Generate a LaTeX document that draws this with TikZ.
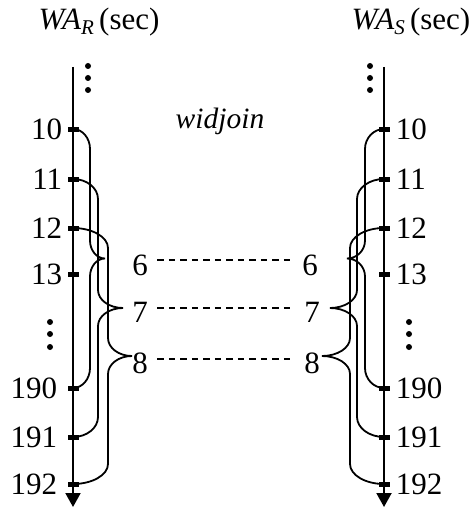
\documentclass[tikz,border=0pt]{standalone}
\usepackage{fontspec}
\setmainfont{Liberation Serif}
\usetikzlibrary{arrows.meta,calc,positioning}

\begin{document}
\begin{tikzpicture}[x=1pt,y=-1pt,
        font=\fontsize{31}{36}\selectfont,
        axis/.style={line width=2pt,-{Triangle[length=14pt,width=15pt]}},
        tick/.style={fill=black,inner sep=0pt,minimum width=11pt,minimum height=5pt},
        wbrace/.style 2 args={line width=1.8pt,
            to path={let \p1=(\tikztostart), \p2=(\tikztotarget) in
                (\p1) .. controls ({\x1+0.55*(#1)},\y1) and ({\x1+(#1)},{\y1-9}) .. ({\x1+(#1)},{\y1-20})
                  -- ({\x1+(#1)},{(\y1+\y2)/2+18})
                  .. controls ({\x1+(#1)},{(\y1+\y2)/2+8}) and ({\x1+(#1)+0.45*((#2)-(#1))},{(\y1+\y2)/2}) .. ({\x1+(#2)},{(\y1+\y2)/2})
                (\p2) .. controls ({\x1+0.55*(#1)},\y2) and ({\x1+(#1)},{\y2+9}) .. ({\x1+(#1)},{\y2+20})
                  -- ({\x1+(#1)},{(\y1+\y2)/2-18})
                  .. controls ({\x1+(#1)},{(\y1+\y2)/2-8}) and ({\x1+(#1)+0.45*((#2)-(#1))},{(\y1+\y2)/2}) .. ({\x1+(#2)},{(\y1+\y2)/2})}},
        wdash/.style={line width=1.3pt,dash pattern=on 6.5pt off 5pt,shorten <=6pt,shorten >=6pt},
        vdot/.style={circle,fill=black,inner sep=0pt,minimum size=6pt},
        num/.style={inner sep=0pt}]
            \useasboundingbox (0,0) rectangle (473,508);
            % titles
            \node[anchor=base] (tR) at (99,30) {\textit{WA}\raisebox{-5pt}{\fontsize{21}{21}\selectfont\textit{R}}\,(sec)};
            \node[anchor=base] (tS) at (411,30) {\textit{WA}\raisebox{-5pt}{\fontsize{21}{21}\selectfont\textit{S}}\,(sec)};
            \node[font=\fontsize{29.5}{34}\selectfont] (wj) at (220,121) {\textit{widjoin}};
            % time axes
            \coordinate (ltop) at (73,67);
            \coordinate (lbot) at (73,507);
            \coordinate (rtop) at (384,67);
            \coordinate (rbot) at (384,507);
            \draw[axis] (ltop) -- (lbot);
            \draw[axis] (rtop) -- (rbot);
            \foreach \v/\y in {10/129,11/179,12/228,13/274,190/388,191/437,192/484}{
                \node[tick] (l\v) at (73,\y) {};
                \node[tick] (r\v) at (384,\y) {};
                \node[num, right=6pt of r\v] (rn\v) {\v};
            }
            \foreach \v in {10,11,12,13}
                \node[num, left=5pt of l\v] (ln\v) {\v};
            \foreach \v in {190,191,192}
                \node[num, left=10pt of l\v] (ln\v) {\v};
            % dots
            \foreach \y [count=\i] in {66,78,90}{
                \node[vdot] (ldt\i) at (88,\y) {};
                \node[vdot] (rdt\i) at (370,\y) {};
            }
            \foreach \y [count=\i] in {322,334,347}{
                \node[vdot] (ldm\i) at (50,\y) {};
                \node[vdot] (rdm\i) at (409,\y) {};
            }
            % window ids
            \node (lw6) at (140,265) {6};
            \node (lw7) at (140,312) {7};
            \node (lw8) at (140,363) {8};
            \node (rw6) at (310,265) {6};
            \node (rw7) at (312,312) {7};
            \node (rw8) at (312,363) {8};
            \draw[wdash] ([yshift=5pt]lw6.east) -- ([yshift=5pt]rw6.west);
            \draw[wdash] ([yshift=4pt]lw7.east) -- ([yshift=4pt]rw7.west);
            \draw[wdash] ([yshift=4pt]lw8.east) -- ([yshift=4pt]rw8.west);
            % windows
            \draw[wbrace={17}{32}] (l10.center) to (l190.center);
            \draw[wbrace={25}{50}] (l11.center) to (l191.center);
            \draw[wbrace={35}{59}] (l12.center) to (l192.center);
            \draw[wbrace={-19}{-37}] (r10.center) to (r190.center);
            \draw[wbrace={-27}{-54}] (r11.center) to (r191.center);
            \draw[wbrace={-34}{-62}] (r12.center) to (r192.center);
        \end{tikzpicture}
\end{document}
